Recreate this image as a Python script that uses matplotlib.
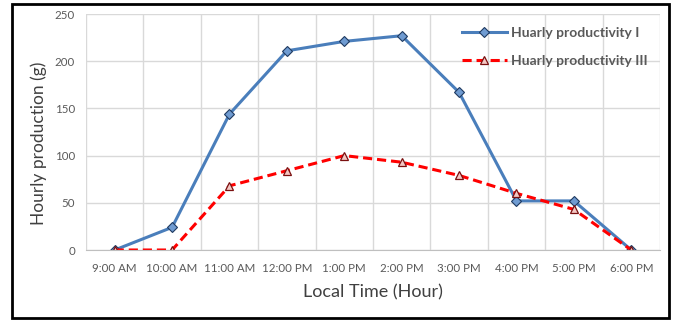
import numpy as np
import matplotlib
matplotlib.use("Agg")
import matplotlib.pyplot as plt
from matplotlib.patches import Rectangle

# Hourly samples over the day
hours = ['9:00 AM', '10:00 AM', '11:00 AM', '12:00 PM', '1:00 PM',
         '2:00 PM', '3:00 PM', '4:00 PM', '5:00 PM', '6:00 PM']
prod_1 = [0, 24, 144, 211, 221, 227, 167, 52, 52, 0]
prod_3 = [0, 0, 68, 84, 100, 93, 79, 60, 43, 0]

plt.rcParams['font.family'] = ['Lato', 'DejaVu Sans']

fig = plt.figure(figsize=(6.76, 3.22), dpi=100)
ax = fig.add_axes([0.1272, 0.2236, 0.8491, 0.7329])

x = np.arange(len(hours))
ax.plot(x, prod_1, color='#4a7ebb', lw=2.2, marker='D', ms=5,
        mfc='#6f9bd1', mec='#1f3a60', mew=0.8, label='Huarly productivity I')
ax.plot(x, prod_3, color='#ff0000', lw=2.2, ls=(0, (3, 1.6)), marker='^', ms=6,
        mfc='#f4c7c3', mec='#7a1010', mew=0.9, label='Huarly productivity III')

ax.set_xlim(-0.5, len(hours) - 0.5)
ax.set_ylim(0, 250)
ax.set_yticks(np.arange(0, 251, 50))
ax.set_xticks(x)
ax.set_xticklabels(hours)
ax.set_xticks(np.arange(-0.5, len(hours)), minor=True)

ax.grid(True, which='minor', axis='x', color='#d9d9d9', lw=1)
ax.grid(True, which='major', axis='y', color='#d9d9d9', lw=1)
ax.set_axisbelow(True)
for s in ['top', 'right', 'left']:
    ax.spines[s].set_visible(False)
ax.spines['bottom'].set_color('#bfbfbf')
ax.tick_params(which='both', length=0, colors='#595959', labelsize=8.3, pad=9)
ax.tick_params(axis='y', pad=8)

ax.set_xlabel('Local Time (Hour)', fontsize=13, color='#404040', labelpad=8)
ax.set_ylabel('Hourly production (g)', fontsize=12.5, color='#404040')
ax.yaxis.set_label_coords(-0.068, 0.453)

leg = ax.legend(loc='upper right', bbox_to_anchor=(1.0, 1.0), frameon=False,
                prop={'weight': 'bold', 'size': 10}, labelcolor='#595959',
                handlelength=3.2, handletextpad=0.3, labelspacing=1.2)

# outer frame around the chart
fig.patches.append(Rectangle((12 / 676, 4 / 322), 657 / 676, 314 / 322,
                             transform=fig.transFigure, fill=False,
                             ec='black', lw=2))

fig.savefig('out.png', dpi=100)
